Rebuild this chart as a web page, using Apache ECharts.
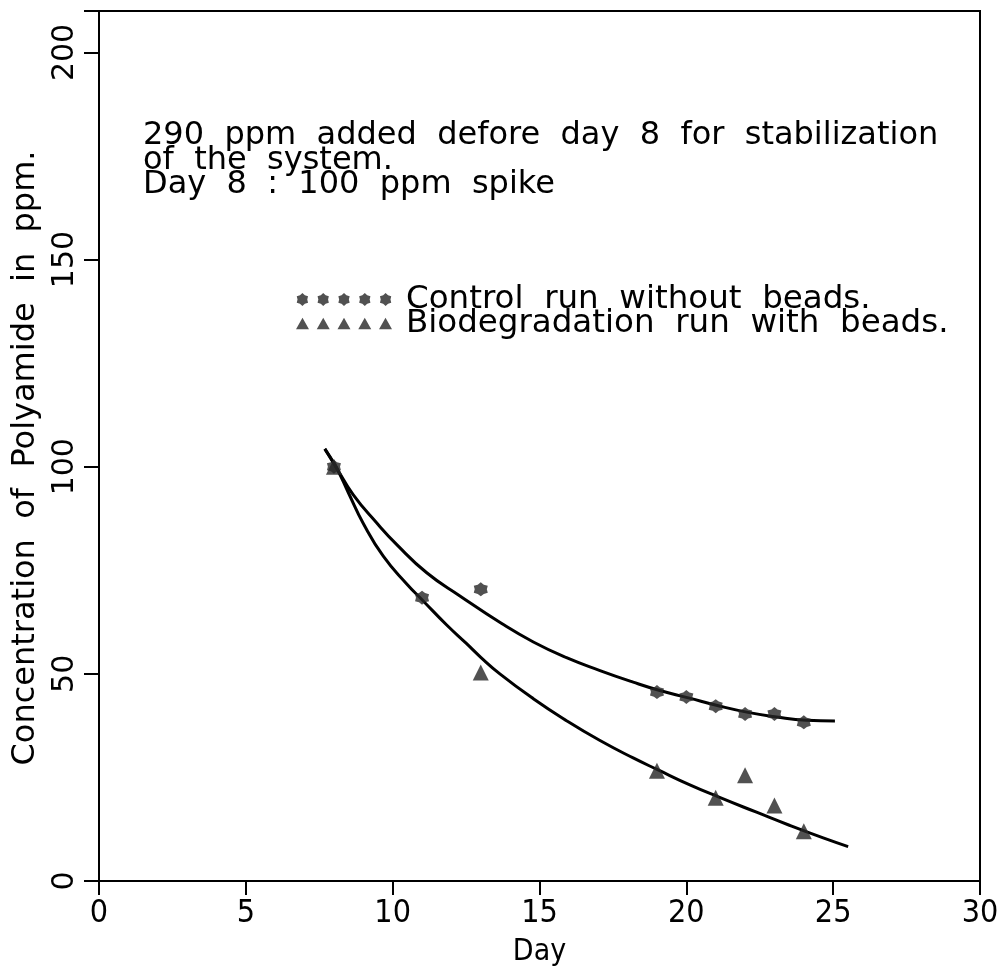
<!DOCTYPE html>
<html>
<head>
<meta charset="utf-8">
<script src="https://cdn.jsdelivr.net/npm/echarts@6/dist/echarts.min.js"></script>
<style>
html,body{margin:0;padding:0;background:#fff;}
#chart{width:1005px;height:972px;}
</style>
</head>
<body>
<div id="chart"></div>
<script>
// ---- data ----
const controlPoints = [[8,100],[11,68.4],[13,70.4],[19,45.6],[20,44.4],[21,42.2],[22,40.3],[23,40.3],[24,38.3]];
const bioPoints = [[8,100],[13,50.3],[19,26.6],[21,20.1],[22,25.5],[23,18.2],[24,12.0]];
const controlCurve = [[7.69,104.3],[8.09,99.7],[8.66,93.2],[9.46,86.4],[10.14,81.2],[11.16,74.4],[12.29,68.8],[13.7,62.2],[14.79,57.7],[15.92,53.9],[17.06,50.8],[18.19,48.0],[19.04,46.1],[20.07,44.2],[21.09,42.3],[22.1,40.7],[23.07,39.6],[24.09,38.8],[25.06,38.6]];
const bioCurve = [[7.69,104.3],[8.09,99.7],[8.5,93.6],[9.0,86.3],[9.68,78.4],[10.48,71.7],[11.04,67.6],[11.84,61.8],[12.5,57.4],[13.0,54.0],[13.65,50.0],[14.79,44.0],[15.92,38.7],[17.06,33.9],[18.19,29.7],[19.04,26.8],[20.12,23.2],[21.09,20.3],[22.39,16.6],[23.53,13.4],[24.66,10.4],[25.51,8.3]];
const seriesNames = ['Control  run  without  beads.', 'Biodegradation  run  with  beads.'];
const xAxisName = 'Day';
const yAxisName = 'Concentration  of  Polyamide  in  ppm.';
const noteLines = ['290  ppm  added  defore  day  8  for  stabilization', 'of  the  system.', 'Day  8  :  100  ppm  spike'];
const xMin = 0, xMax = 30, xStep = 5;
const yMin = 0, yMax = 210, yStep = 50, yTicks = [0, 50, 100, 150, 200];

// ---- marker shapes ----
function starPts(ox) {
  const p = [];
  for (let k = 0; k < 12; k++) {
    const r = k % 2 === 0 ? 10 : 7.5;
    const a = (-90 + k * 30) * Math.PI / 180;
    p.push((ox + 10 + r * Math.cos(a)).toFixed(2) + ',' + (10 + r * Math.sin(a)).toFixed(2));
  }
  return 'M' + p.join(' L') + ' Z';
}
function triPts(ox) {
  return 'M' + (ox + 10) + ',1 L' + (ox + 20) + ',19 L' + ox + ',19 Z';
}
const starPath = 'path://' + starPts(0);
let star5 = '', tri5 = '';
for (let i = 0; i < 5; i++) { star5 += starPts(i * 32) + ' '; tri5 += triPts(i * 32) + ' '; }
const markColor = '#262626';
const FONT = 'DejaVu Sans, Verdana, sans-serif';
const CFONT = 'DejaVu Sans Condensed, Liberation Sans Narrow, DejaVu Sans, sans-serif';

const chart = echarts.init(document.getElementById('chart'), null, {renderer: 'canvas'});
chart.setOption({
  backgroundColor: '#fff',
  animation: false,
  grid: {left: 99, right: 25, top: 11, bottom: 90, show: true, borderColor: '#000', borderWidth: 2},
  xAxis: {
    type: 'value', min: xMin, max: xMax, interval: xStep,
    name: xAxisName, nameLocation: 'middle', nameGap: 56,
    nameTextStyle: {fontFamily: CFONT, fontSize: 30, color: '#000'},
    axisLine: {lineStyle: {color: '#000', width: 2}},
    axisTick: {length: 14, lineStyle: {color: '#000', width: 2}},
    axisLabel: {margin: 17, fontFamily: CFONT, fontSize: 32, color: '#000'},
    splitLine: {show: false}
  },
  yAxis: {
    type: 'value', min: yMin, max: yMax, interval: yStep,
    name: yAxisName, nameLocation: 'middle', nameGap: 52, nameRotate: 90,
    nameTextStyle: {fontFamily: FONT, fontSize: 32, color: '#000', padding: [0, 24, 0, 0]},
    axisLine: {lineStyle: {color: '#000', width: 2}},
    axisTick: {length: 15, lineStyle: {color: '#000', width: 2}},
    axisLabel: {rotate: 90, margin: 19, fontFamily: FONT, fontSize: 30, color: '#000',
      formatter: v => (yTicks.indexOf(v) >= 0 ? String(v) : '')},
    splitLine: {show: false}
  },
  legend: {
    orient: 'vertical', left: 291, top: 278, itemGap: -9,
    itemWidth: 96, itemHeight: 13,
    data: [
      {name: seriesNames[0], icon: 'path://' + star5},
      {name: seriesNames[1], icon: 'path://' + tri5}
    ],
    textStyle: {fontFamily: FONT, fontSize: 32.5, color: '#000', padding: [0, 0, 0, 9]},
    selectedMode: false
  },
  graphic: [{
    type: 'text', left: 143, top: 120,
    style: {text: noteLines.join('\n'), font: '32px ' + FONT, fill: '#000', lineHeight: 24.5}
  }],
  series: [
    {type: 'line', data: controlCurve, smooth: 0.5, showSymbol: false, lineStyle: {color: '#000', width: 3}, z: 2, silent: true},
    {type: 'line', data: bioCurve, smooth: 0.5, showSymbol: false, lineStyle: {color: '#000', width: 3}, z: 2, silent: true},
    {type: 'scatter', name: seriesNames[0], data: controlPoints, symbol: starPath, symbolSize: 14, itemStyle: {color: markColor}, z: 3},
    {type: 'scatter', name: seriesNames[1], data: bioPoints, symbol: 'triangle', symbolSize: 16, itemStyle: {color: markColor}, z: 3}
  ]
});
</script>
</body>
</html>
